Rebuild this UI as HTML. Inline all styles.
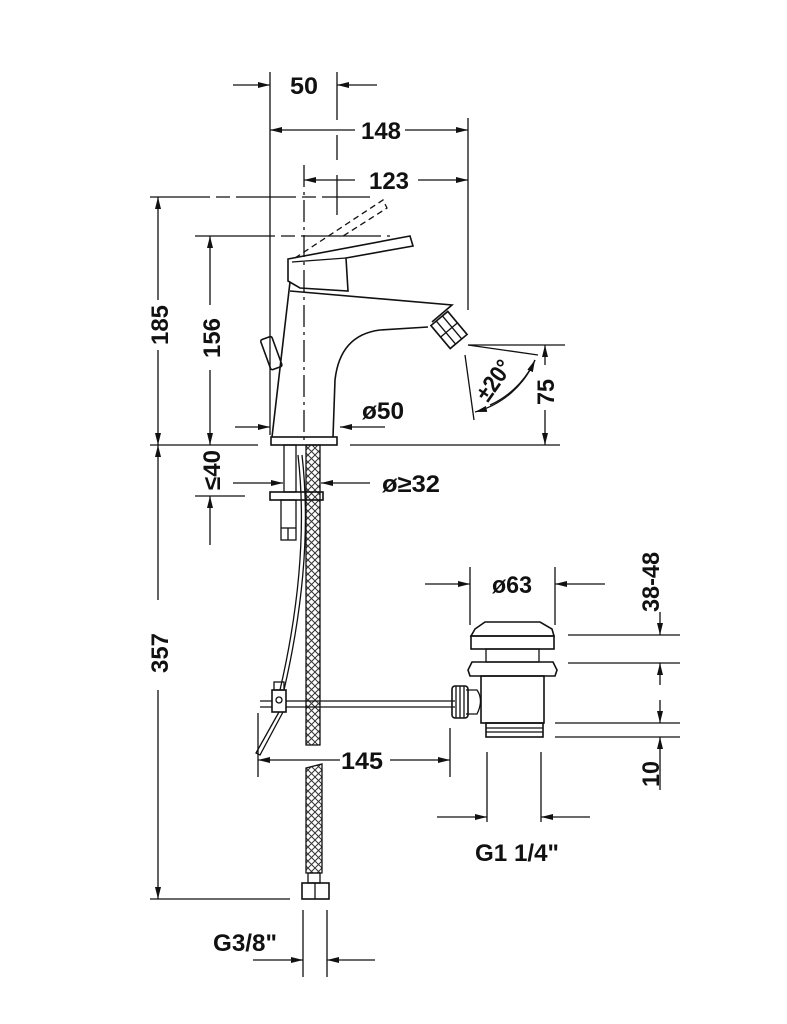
<!DOCTYPE html>
<html><head><meta charset="utf-8"><style>
html,body{margin:0;padding:0;background:#fff;}
svg{display:block}
text{font-family:"Liberation Sans",sans-serif;font-weight:bold;font-size:24px;fill:#111}
</style></head><body>
<svg width="787" height="1024" viewBox="0 0 787 1024" xmlns="http://www.w3.org/2000/svg">
<defs>
<marker id="a" viewBox="0 0 12 6" refX="12" refY="3" markerWidth="12" markerHeight="6" orient="auto" markerUnits="userSpaceOnUse"><path d="M0,0L12,3L0,6z" fill="#111"/></marker>
<pattern id="h" width="7" height="7" patternUnits="userSpaceOnUse"><path d="M0,0L7,7M7,0L0,7" stroke="#333" stroke-width="1"/></pattern>
</defs>
<g stroke="#111" stroke-width="1.3" fill="none">
<line x1="270" y1="72" x2="270" y2="435"/>
<line x1="337" y1="72" x2="337" y2="120"/>
<line x1="337" y1="135" x2="337" y2="160"/>
<line x1="337" y1="175" x2="337" y2="215"/>
<line x1="233" y1="85" x2="270" y2="85" marker-end="url(#a)"/>
<line x1="377" y1="85" x2="337" y2="85" marker-end="url(#a)"/>
<line x1="468" y1="118" x2="468" y2="310"/>
<line x1="355" y1="130" x2="270" y2="130" marker-end="url(#a)"/>
<line x1="405" y1="130" x2="468" y2="130" marker-end="url(#a)"/>
<line x1="304" y1="165" x2="304" y2="440" stroke-dasharray="22,5,3,5"/>
<line x1="355" y1="180" x2="304" y2="180" marker-end="url(#a)"/>
<line x1="418" y1="180" x2="468" y2="180" marker-end="url(#a)"/>
<line x1="150" y1="197" x2="370" y2="197" stroke-dasharray="60,6,14,6"/>
<line x1="158" y1="300" x2="158" y2="197" marker-end="url(#a)"/>
<line x1="158" y1="350" x2="158" y2="445" marker-end="url(#a)"/>
<line x1="195" y1="236" x2="390" y2="236" stroke-dasharray="80,6,14,6"/>
<line x1="210" y1="305" x2="210" y2="236" marker-end="url(#a)"/>
<line x1="210" y1="370" x2="210" y2="445" marker-end="url(#a)"/>
<line x1="150" y1="445" x2="258" y2="445"/>
<line x1="350" y1="445" x2="560" y2="445"/>
<line x1="195" y1="496" x2="245" y2="496"/>
<line x1="210" y1="545" x2="210" y2="496" marker-end="url(#a)"/>
<line x1="235" y1="427" x2="270" y2="427" marker-end="url(#a)"/>
<line x1="385" y1="427" x2="340" y2="427" marker-end="url(#a)"/>
<path d="M295,258 L383,200 L387,208 L340,238" stroke-dasharray="6,4"/>
<path d="M288,259 L410,236 L413,246 L346,258 L348,291 L300,288 L288,281 Z" stroke-width="1.6"/>
<line x1="292" y1="262" x2="346" y2="258"/>
<path d="M290,282 L272,437" stroke-width="1.6"/>
<path d="M290,291 L452,305 L432,322" stroke-width="1.6"/>
<path d="M428,327 L380,330 Q340,335 335,380 L333,437" stroke-width="1.6"/>
<rect x="271" y="437" width="66" height="8" stroke-width="1.6"/>
<g transform="translate(272,355) rotate(-20)"><rect x="-6" y="-18" width="12" height="32" rx="2" stroke-width="1.6"/></g>
<g transform="translate(449,330) rotate(50)">
<rect x="-15" y="-11" width="30" height="22" stroke-width="1.6"/>
<line x1="-15" y1="-4" x2="15" y2="-4"/><line x1="-15" y1="4" x2="15" y2="4"/>
<line x1="0" y1="-11" x2="0" y2="11"/>
</g>
<line x1="468" y1="345" x2="538" y2="355"/>
<line x1="465" y1="355" x2="474" y2="420"/>
<path d="M535,360 A90,90 0 0 1 475,412" marker-end="url(#a)"/>
<path d="M490,405 A90,90 0 0 0 535,360" marker-end="url(#a)"/>
<line x1="468" y1="345" x2="565" y2="345"/>
<line x1="545" y1="365" x2="545" y2="345" marker-end="url(#a)"/>
<line x1="545" y1="410" x2="545" y2="445" marker-end="url(#a)"/>
<rect x="284" y="445" width="12" height="47"/>
<rect x="306" y="445" width="14" height="300" fill="url(#h)"/>
<rect x="270" y="492" width="53" height="8" stroke-width="1.6"/>
<rect x="281" y="500" width="15" height="40"/>
<line x1="281" y1="528" x2="296" y2="528"/>
<line x1="288" y1="528" x2="288" y2="540"/>
<path d="M298,455 Q310,560 280,690"/>
<path d="M302,455 Q314,560 284,690"/>
<line x1="233" y1="483" x2="283" y2="483" marker-end="url(#a)"/>
<line x1="370" y1="483" x2="321" y2="483" marker-end="url(#a)"/>
<line x1="260" y1="701" x2="455" y2="701"/>
<line x1="260" y1="707" x2="455" y2="707"/>
<rect x="272" y="690" width="14" height="22" fill="#fff" stroke-width="1.6"/>
<rect x="274" y="682" width="10" height="8"/>
<circle cx="279" cy="700" r="3"/>
<path d="M279,712 L256,753 L260,755 L283,712"/>
<line x1="258" y1="713" x2="258" y2="777"/>
<line x1="450" y1="728" x2="450" y2="777"/>
<line x1="340" y1="760" x2="258" y2="760" marker-end="url(#a)"/>
<line x1="390" y1="760" x2="450" y2="760" marker-end="url(#a)"/>
<path d="M306,768 L322,764 L322,873 L306,873 Z" fill="url(#h)"/>
<rect x="308" y="873" width="12" height="10"/>
<rect x="302" y="883" width="27" height="16" stroke-width="1.6"/>
<line x1="315" y1="883" x2="315" y2="899"/>
<line x1="150" y1="899" x2="290" y2="899"/>
<line x1="158" y1="600" x2="158" y2="445" marker-end="url(#a)"/>
<line x1="158" y1="690" x2="158" y2="899" marker-end="url(#a)"/>
<line x1="303" y1="910" x2="303" y2="977"/>
<line x1="327" y1="910" x2="327" y2="977"/>
<line x1="253" y1="960" x2="303" y2="960" marker-end="url(#a)"/>
<line x1="375" y1="960" x2="327" y2="960" marker-end="url(#a)"/>
<line x1="470" y1="567" x2="470" y2="625"/>
<line x1="555" y1="567" x2="555" y2="625"/>
<line x1="425" y1="584" x2="470" y2="584" marker-end="url(#a)"/>
<line x1="605" y1="584" x2="555" y2="584" marker-end="url(#a)"/>
<path d="M475,629 L485,622 L540,622 L552,629 L554,636 L471,636 Z" stroke-width="1.6"/>
<rect x="471" y="636" width="83" height="13" stroke-width="1.6"/>
<rect x="486" y="649" width="53" height="13"/>
<path d="M472,662 L553,662 L557,670 L555,676 L470,676 L468,670 Z" stroke-width="1.6"/>
<rect x="481" y="676" width="63" height="47" stroke-width="1.6"/>
<rect x="486" y="723" width="57" height="14" stroke-width="1.6"/>
<line x1="486" y1="728" x2="543" y2="728"/><line x1="486" y1="732" x2="543" y2="732"/>
<path d="M466,690 L477,690 Q484,700 477,714 L466,714"/>
<rect x="452" y="686" width="16" height="32" rx="3" stroke-width="1.6"/>
<line x1="456" y1="686" x2="456" y2="718"/><line x1="460" y1="686" x2="460" y2="718"/><line x1="464" y1="686" x2="464" y2="718"/>
<line x1="568" y1="635" x2="680" y2="635"/>
<line x1="568" y1="663" x2="680" y2="663"/>
<line x1="555" y1="723" x2="680" y2="723"/>
<line x1="555" y1="737" x2="680" y2="737"/>
<line x1="660" y1="612" x2="660" y2="635" marker-end="url(#a)"/>
<line x1="660" y1="685" x2="660" y2="663" marker-end="url(#a)"/>
<line x1="660" y1="700" x2="660" y2="723" marker-end="url(#a)"/>
<line x1="660" y1="790" x2="660" y2="737" marker-end="url(#a)"/>
<line x1="487" y1="752" x2="487" y2="822"/>
<line x1="541" y1="752" x2="541" y2="822"/>
<line x1="437" y1="817" x2="487" y2="817" marker-end="url(#a)"/>
<line x1="590" y1="817" x2="541" y2="817" marker-end="url(#a)"/>
</g>
<text x="290" y="94" textLength="28" lengthAdjust="spacingAndGlyphs">50</text>
<text x="361" y="139" textLength="40" lengthAdjust="spacingAndGlyphs">148</text>
<text x="369" y="189" textLength="40" lengthAdjust="spacingAndGlyphs">123</text>
<text transform="translate(168,345) rotate(-90)" textLength="40" lengthAdjust="spacingAndGlyphs">185</text>
<text transform="translate(220,358) rotate(-90)" textLength="40" lengthAdjust="spacingAndGlyphs">156</text>
<text transform="translate(220,490) rotate(-90)" textLength="40" lengthAdjust="spacingAndGlyphs">≤40</text>
<text x="362" y="419" textLength="42" lengthAdjust="spacingAndGlyphs">ø50</text>
<text transform="translate(488,403) rotate(-55)" textLength="44" lengthAdjust="spacingAndGlyphs">±20°</text>
<text transform="translate(554,405) rotate(-90)" textLength="26" lengthAdjust="spacingAndGlyphs">75</text>
<text x="382" y="492" textLength="58" lengthAdjust="spacingAndGlyphs">ø≥32</text>
<text x="492" y="593" textLength="40" lengthAdjust="spacingAndGlyphs">ø63</text>
<text transform="translate(659,612) rotate(-90)" textLength="60" lengthAdjust="spacingAndGlyphs">38-48</text>
<text transform="translate(659,787) rotate(-90)" textLength="26" lengthAdjust="spacingAndGlyphs">10</text>
<text x="341" y="769" textLength="42" lengthAdjust="spacingAndGlyphs">145</text>
<text transform="translate(168,673) rotate(-90)" textLength="40" lengthAdjust="spacingAndGlyphs">357</text>
<text x="213" y="951" textLength="64" lengthAdjust="spacingAndGlyphs">G3/8"</text>
<text x="475" y="861" textLength="84" lengthAdjust="spacingAndGlyphs">G1 1/4"</text>
</svg>
</body></html>
